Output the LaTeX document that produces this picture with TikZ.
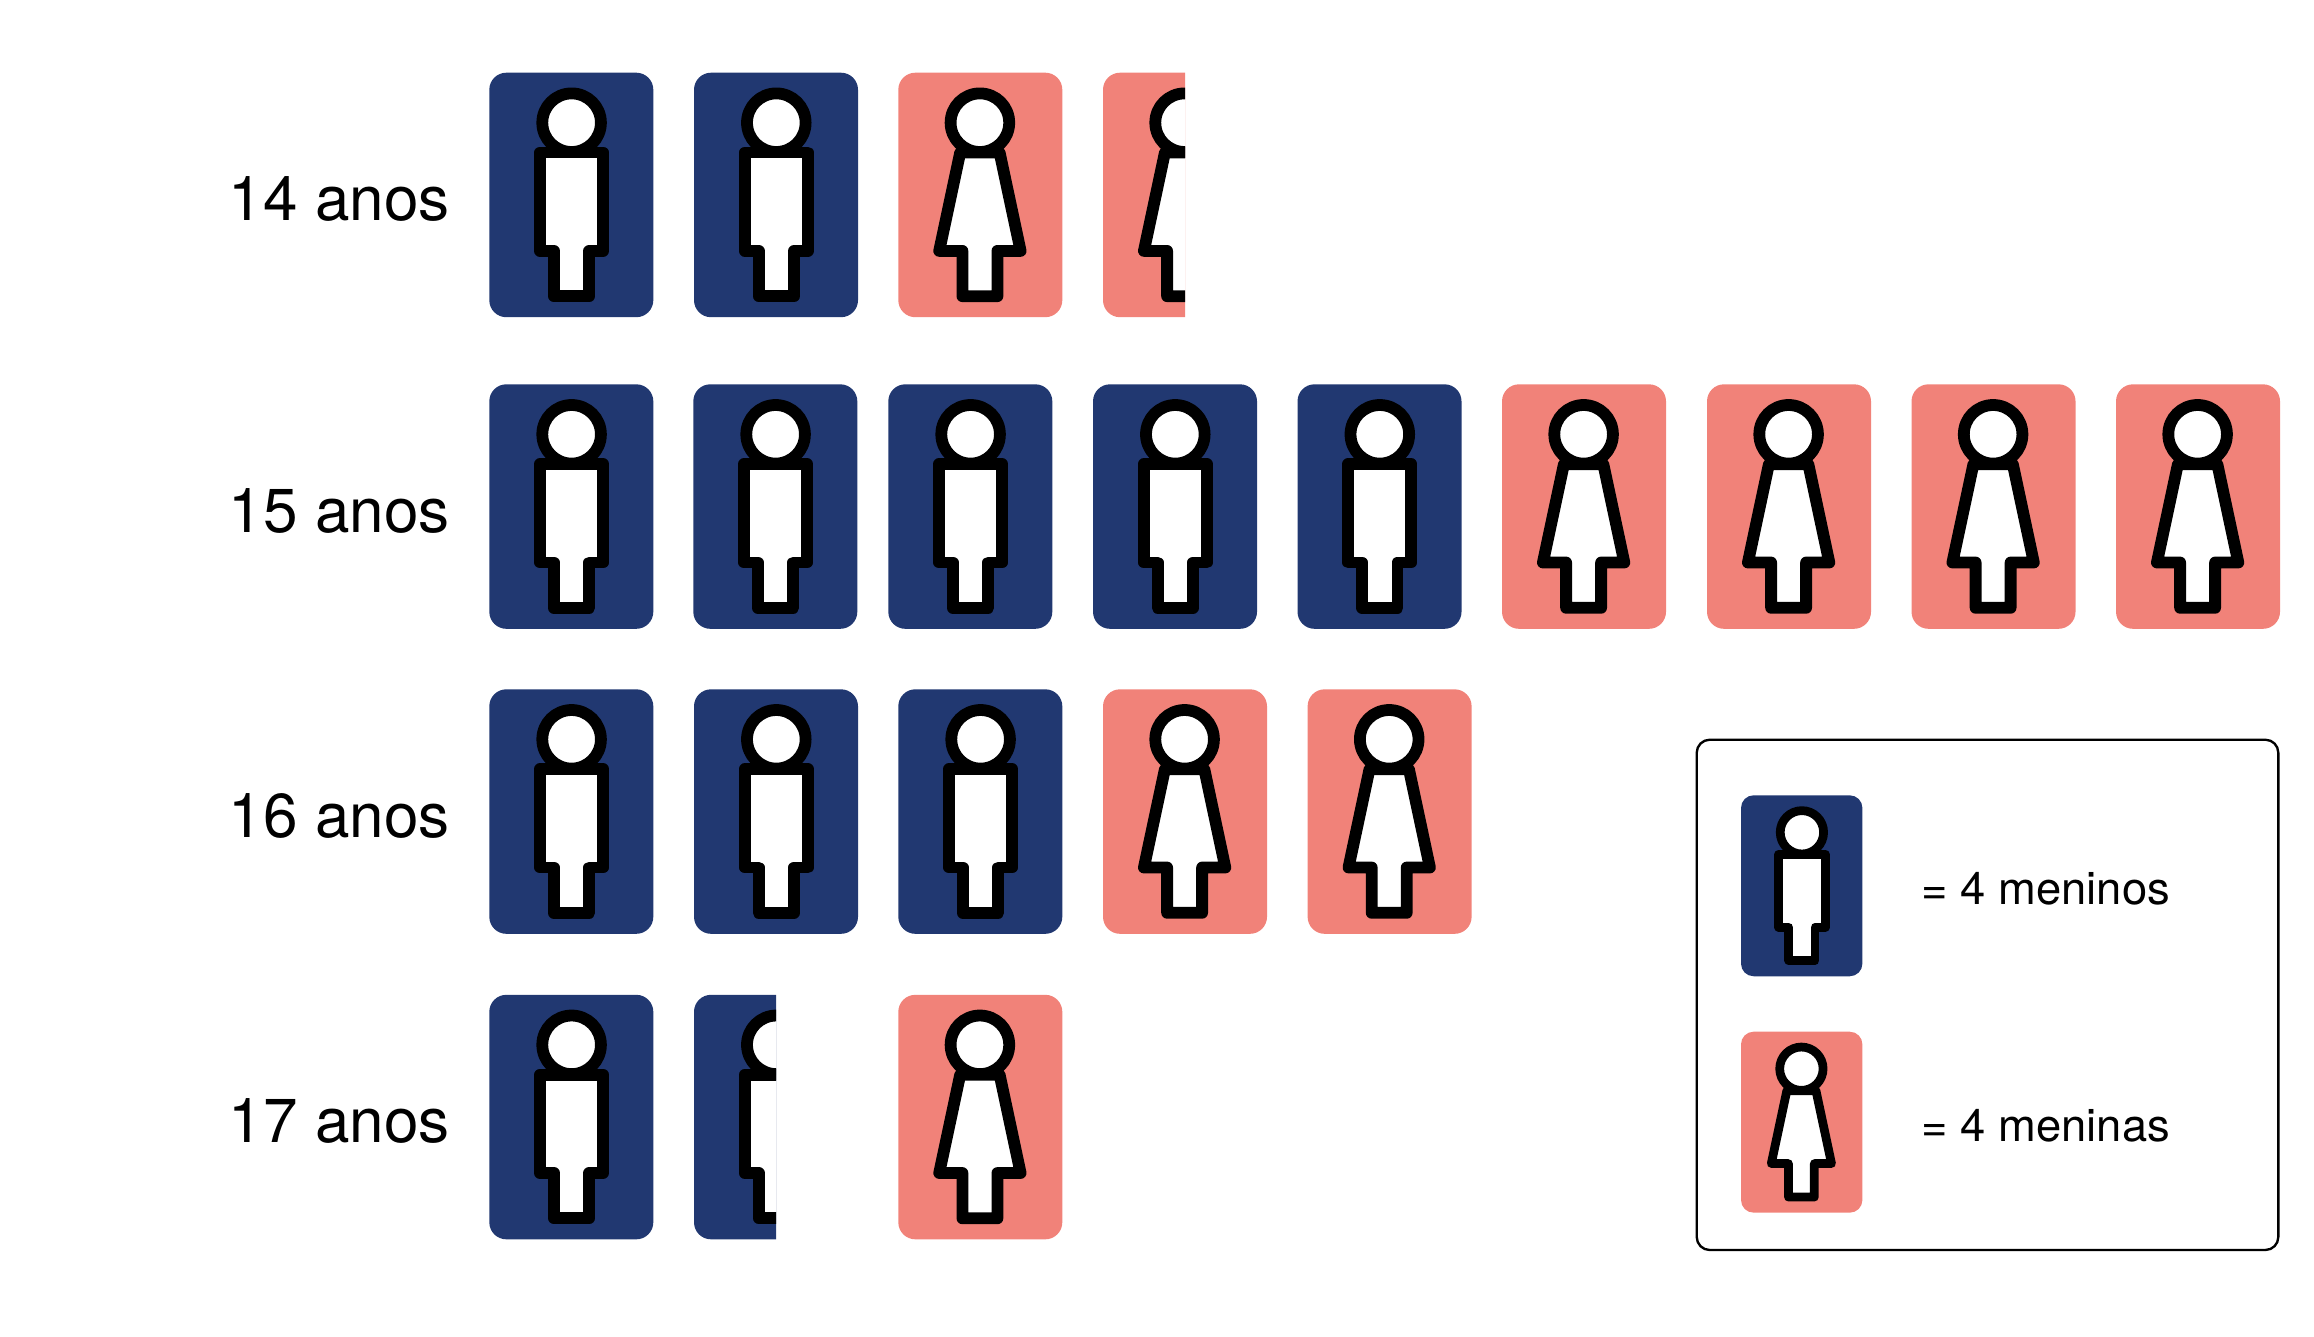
\documentclass[tikz,border=0pt]{standalone}
\usepackage{fontspec}
\setmainfont{TeX Gyre Heros}
\definecolor{azul}{RGB}{33,56,113}
\definecolor{rosa}{RGB}{241,130,121}
\tikzset{
  boneco/.style={draw=black, fill=white, line join=round, line width=#1*0.236cm},
  caixa/.style={rounded corners=#1*0.34cm},
  idade/.style={anchor=base west, inner sep=0pt, font=\fontsize{35.3}{40}\selectfont},
  valor/.style={anchor=base west, inner sep=0pt, font=\fontsize{25.8}{30}\selectfont}
}
\newcommand\menino[3]{
\begin{scope}[shift={(#1,#2)}, scale=#3]
\fill[azul, caixa=#3] (0,0) rectangle (164,244.5);
\draw[boneco=#3] (82.3,50) circle (29.3);
\draw[boneco=#3] (50.8,79.8) -- (113.8,79.8) -- (113.8,178.2) -- (100,178.2) -- (100,223.5) -- (64.6,223.5) -- (64.6,178.2) -- (50.8,178.2) -- cycle;
\end{scope}
}
\newcommand\menina[3]{
\begin{scope}[shift={(#1,#2)}, scale=#3]
\fill[rosa, caixa=#3] (0,0) rectangle (164,244.5);
\draw[boneco=#3] (81.6,50) circle (29.3);
\draw[boneco=#3] (61.9,79.8) -- (101.3,79.8) -- (122.3,178.2) -- (99.1,178.2) -- (99.1,223.5) -- (64.1,223.5) -- (64.1,178.2) -- (40.9,178.2) -- cycle;
\end{scope}
}
\begin{document}
\begin{tikzpicture}[x=0.02cm, y=-0.02cm]
\useasboundingbox (0,0) rectangle (2314,1336);
% 14 anos
\node[idade] (i14) at (228.5,220.7) {14 anos};
\menino{489.3}{72.7}{1}
\menino{694}{72.7}{1}
\menina{898.3}{72.7}{1}
\begin{scope}
\clip (1103,60) rectangle (1185,330);
\menina{1103}{72.7}{1}
\end{scope}
% 15 anos
\node[idade] (i15) at (228.5,532.3) {15 anos};
\menino{489.3}{384.3}{1}
\menino{693.3}{384.3}{1}
\menino{888.3}{384.3}{1}
\menino{1093}{384.3}{1}
\menino{1297.5}{384.3}{1}
\menina{1502}{384.3}{1}
\menina{1707}{384.3}{1}
\menina{1911.5}{384.3}{1}
\menina{2116}{384.3}{1}
% 16 anos
\node[idade] (i16) at (228.5,837.3) {16 anos};
\menino{489.3}{689.3}{1}
\menino{694}{689.3}{1}
\menino{898.3}{689.3}{1}
\menina{1103}{689.3}{1}
\menina{1307.6}{689.3}{1}
% 17 anos
\node[idade] (i17) at (228.5,1142.8) {17 anos};
\menino{489.3}{994.8}{1}
\begin{scope}
\clip (694,980) rectangle (776,1250);
\menino{694}{994.8}{1}
\end{scope}
\menina{898.3}{994.8}{1}
% legenda
\draw[rounded corners=0.26cm, line width=0.047cm] (1696.7,739.7) rectangle (2278.3,1250);
\menino{1741}{795.3}{0.74}
\menina{1741}{1031.7}{0.74}
\node[valor] (v1) at (1921.5,904.6) {= 4 meninos};
\node[valor] (v2) at (1921.5,1141) {= 4 meninas};
\end{tikzpicture}
\end{document}
